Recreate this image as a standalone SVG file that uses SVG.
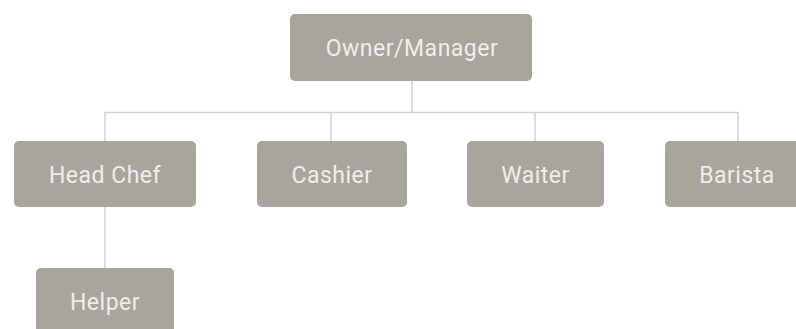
<svg xmlns="http://www.w3.org/2000/svg" width="796" height="329" viewBox="0 0 796 329">
<style>
.node rect{fill:#a8a59c;}
.node text{font-family:Roboto,"Liberation Sans",sans-serif;font-size:23px;letter-spacing:0.5px;fill:#f0eee9;text-anchor:middle;}
#connectors path{fill:none;stroke:#d3d1cb;stroke-width:1.5;}
</style>
<rect width="796" height="329" fill="#ffffff"/>
<g id="connectors">
<path d="M412 81V112.5M105 141V112.5H738V141M331 112.5V141M535 112.5V141M105 207V268"/>
</g>
<g id="owner" class="node"><rect x="290" y="14" width="242" height="67" rx="5"/><text x="412" y="56">Owner/Manager</text></g>
<g id="headchef" class="node"><rect x="14" y="141" width="182" height="66" rx="5"/><text x="105" y="182.5">Head Chef</text></g>
<g id="cashier" class="node"><rect x="257" y="141" width="150" height="66" rx="5"/><text x="332" y="182.5">Cashier</text></g>
<g id="waiter" class="node"><rect x="467" y="141" width="137" height="66" rx="5"/><text x="535.5" y="182.5">Waiter</text></g>
<g id="barista" class="node"><rect x="665" y="141" width="146" height="66" rx="5"/><text x="737" y="182.5">Barista</text></g>
<g id="helper" class="node"><rect x="36" y="268" width="138" height="66" rx="5"/><text x="105" y="309.5">Helper</text></g>
</svg>
